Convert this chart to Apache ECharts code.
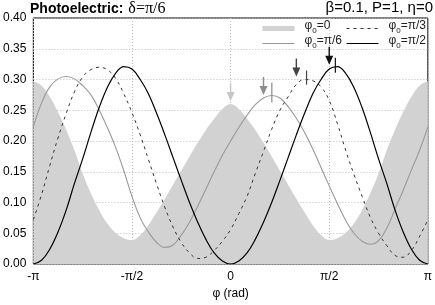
<!DOCTYPE html>
<html><head><meta charset="utf-8">
<script src="https://cdn.jsdelivr.net/npm/echarts@6/dist/echarts.min.js"></script>
<style>html,body{margin:0;padding:0;background:#fff}#c{width:435px;height:305px}</style>
</head><body><div id="c"></div>
<script>
// azimuthal angle in units of pi (steps of pi/24)
const phi = [-1, -0.9583, -0.9167, -0.875, -0.8333, -0.7917, -0.75, -0.7083, -0.6667, -0.625, -0.5833, -0.5417,
  -0.5, -0.4583, -0.4167, -0.375, -0.3333, -0.2917, -0.25, -0.2083, -0.1667, -0.125, -0.0833, -0.0417, 0,
  0.0417, 0.0833, 0.125, 0.1667, 0.2083, 0.25, 0.2917, 0.3333, 0.375, 0.4167, 0.4583, 0.5,
  0.5417, 0.5833, 0.625, 0.6667, 0.7083, 0.75, 0.7917, 0.8333, 0.875, 0.9167, 0.9583, 1];
const seriesNames = ['φ0=0', 'φ0=π/6', 'φ0=π/3', 'φ0=π/2'];
const phi0_0 = [0.297, 0.290, 0.272, 0.247, 0.218, 0.185, 0.147, 0.115, 0.088, 0.066, 0.051, 0.042,
  0.039, 0.047, 0.063, 0.084, 0.106, 0.129, 0.152, 0.175, 0.197, 0.218, 0.236, 0.252, 0.260,
  0.252, 0.236, 0.218, 0.197, 0.175, 0.152, 0.129, 0.106, 0.084, 0.063, 0.047, 0.039,
  0.042, 0.051, 0.066, 0.088, 0.115, 0.147, 0.185, 0.218, 0.247, 0.272, 0.290, 0.297];
const phi0_pi6 = [0.223, 0.262, 0.288, 0.301, 0.305, 0.301, 0.290, 0.275, 0.251, 0.222, 0.190, 0.152,
  0.110, 0.075, 0.052, 0.035, 0.027, 0.031, 0.047, 0.068, 0.094, 0.122, 0.150, 0.177, 0.200,
  0.222, 0.242, 0.259, 0.270, 0.274, 0.270, 0.256, 0.237, 0.214, 0.187, 0.157, 0.127,
  0.098, 0.071, 0.050, 0.037, 0.032, 0.038, 0.058, 0.089, 0.120, 0.153, 0.185, 0.223];
const phi0_pi3 = [0.072, 0.113, 0.160, 0.205, 0.245, 0.280, 0.304, 0.316, 0.320, 0.316, 0.302, 0.277,
  0.246, 0.210, 0.170, 0.130, 0.092, 0.060, 0.035, 0.018, 0.009, 0.011, 0.022, 0.037, 0.056,
  0.082, 0.110, 0.147, 0.183, 0.219, 0.250, 0.272, 0.292, 0.300, 0.298, 0.288, 0.266,
  0.228, 0.185, 0.146, 0.110, 0.076, 0.050, 0.030, 0.014, 0.011, 0.022, 0.045, 0.072];
const phi0_pi2 = [0.000, 0.006, 0.024, 0.052, 0.088, 0.131, 0.171, 0.214, 0.254, 0.287, 0.310, 0.321,
  0.317, 0.300, 0.277, 0.245, 0.210, 0.173, 0.136, 0.100, 0.068, 0.040, 0.018, 0.005, 0.000,
  0.005, 0.018, 0.040, 0.068, 0.100, 0.136, 0.173, 0.210, 0.245, 0.277, 0.300, 0.317,
  0.321, 0.310, 0.287, 0.254, 0.214, 0.171, 0.131, 0.088, 0.052, 0.024, 0.006, 0.000];
const xTickLabels = ['-π', '-π/2', '0', 'π/2', 'π'];
const yTickLabels = ['0.00', '0.05', '0.10', '0.15', '0.20', '0.25', '0.30', '0.35', '0.40'];
// arrows at phi0 (units of pi) and their tip heights
const arrowX = [0, 0.1667, 0.3333, 0.5];
const arrowTipY = [0.265, 0.275, 0.305, 0.324];
// peak markers (pi/6, pi/3, pi/2 curves)
const peakX = [0.209, 0.385, 0.531];
const peakY = [0.279, 0.303, 0.323];

const FONT = 'Liberation Sans, Arial, Helvetica, sans-serif';
const arrowPath = 'path://M3.3,0L4.7,0L4.7,9L8,9L4,18L0,9L3.3,9Z';
const arrowColors = ['#c6c6c6', '#8c8c8c', '#444444', '#111111'];
const peakColors = ['#8c8c8c', '#444444', '#111111'];
const peakLen = [20, 14, 15];

function pts(arr) { return phi.map((p, i) => [p, arr[i]]); }
function markFor(i) {
  const m = { symbol: 'none', silent: true, label: { show: false },
    data: [{ coord: [arrowX[i], arrowTipY[i]], symbol: arrowPath, symbolSize: [8, 18],
      symbolOffset: [0, '-50%'], itemStyle: { color: arrowColors[i] } }] };
  if (i > 0) {
    m.data.push({ coord: [peakX[i - 1], peakY[i - 1]], symbol: 'rect', symbolSize: [1.2, peakLen[i - 1]],
      itemStyle: { color: peakColors[i - 1] } });
  }
  return m;
}
const legendFmt = name => '{t|φ}{s|0}{t|=' + name.split('=')[1] + '}';
const legendText = {
  fontFamily: FONT, color: '#222', padding: [0, 0, 0, 5],
  rich: {
    t: { fontSize: 12, fontFamily: FONT, color: '#222', lineHeight: 13, verticalAlign: 'bottom', padding: [0, 0, 3, 0] },
    s: { fontSize: 8, fontFamily: FONT, color: '#222', lineHeight: 10, verticalAlign: 'bottom' }
  }
};
const legendBase = { orient: 'vertical', top: 20, padding: 0, itemGap: 0, itemWidth: 32, itemHeight: 5,
  itemStyle: { opacity: 0 }, lineStyle: { width: 1 }, formatter: legendFmt, textStyle: legendText };

const chart = echarts.init(document.getElementById('c'), null, { renderer: 'canvas' });
chart.setOption({
  animation: false,
  backgroundColor: '#fff',
  title: [
    { text: '{b|Photoelectric:} {s|δ=π/6}', left: 30, top: 0, padding: 0,
      textStyle: { rich: {
        b: { fontSize: 14, fontWeight: 'bold', fontFamily: FONT, color: '#000' },
        s: { fontSize: 16, fontWeight: 'normal', fontFamily: 'Liberation Serif, Times New Roman, serif', color: '#000' } } } },
    { text: 'β=0.1, P=1, η=0', right: 2, top: 0, padding: 0,
      textStyle: { fontSize: 15, fontWeight: 'normal', fontFamily: FONT, color: '#000' } }
  ],
  legend: [
    Object.assign({}, legendBase, { left: 262,
      data: [{ name: seriesNames[0], icon: 'rect', itemStyle: { color: '#d2d2d2', opacity: 1 } }, seriesNames[1]] }),
    Object.assign({}, legendBase, { left: 346, data: [seriesNames[2], seriesNames[3]] })
  ],
  grid: { left: 31, right: 7, top: 18, bottom: 38, show: true, borderColor: '#000', borderWidth: 1, backgroundColor: 'transparent' },
  xAxis: {
    type: 'value', min: -1, max: 1, interval: 0.5,
    name: 'φ (rad)', nameLocation: 'middle', nameGap: 24,
    nameTextStyle: { fontSize: 12, fontFamily: FONT, color: '#000' },
    axisLine: { show: false }, axisTick: { show: false },
    axisLabel: { fontSize: 12, fontFamily: FONT, color: '#000', margin: 7,
      formatter: v => xTickLabels[Math.round((v + 1) / 0.5)] },
    splitLine: { show: true, lineStyle: { color: '#bdbdbd', type: [1, 2], width: 1 } }
  },
  yAxis: {
    type: 'value', min: 0, max: 0.4, interval: 0.05,
    axisLine: { show: false }, axisTick: { show: false },
    axisLabel: { fontSize: 12, fontFamily: FONT, color: '#000', margin: 7,
      formatter: v => yTickLabels[Math.round(v / 0.05)] },
    splitLine: { show: true, lineStyle: { color: '#bdbdbd', type: [1, 2], width: 1 } }
  },
  series: [
    { name: seriesNames[0], type: 'line', data: pts(phi0_0), smooth: 0.4, symbol: 'none', z: 1,
      lineStyle: { width: 0, color: '#d2d2d2' }, itemStyle: { color: '#d2d2d2' },
      areaStyle: { color: '#d2d2d2', opacity: 1 }, markPoint: markFor(0) },
    { name: seriesNames[1], type: 'line', data: pts(phi0_pi6), smooth: 0.4, symbol: 'none', z: 3,
      lineStyle: { width: 1.1, color: '#999999' }, itemStyle: { color: '#999999' }, markPoint: markFor(1) },
    { name: seriesNames[2], type: 'line', data: pts(phi0_pi3), smooth: 0.4, symbol: 'none', z: 3,
      lineStyle: { width: 1, color: '#333333', type: [3, 4] }, itemStyle: { color: '#333333' }, markPoint: markFor(2) },
    { name: seriesNames[3], type: 'line', data: pts(phi0_pi2), smooth: 0.4, symbol: 'none', z: 3,
      lineStyle: { width: 1.2, color: '#000000' }, itemStyle: { color: '#000000' }, markPoint: markFor(3) }
  ]
});
</script>
</body></html>
